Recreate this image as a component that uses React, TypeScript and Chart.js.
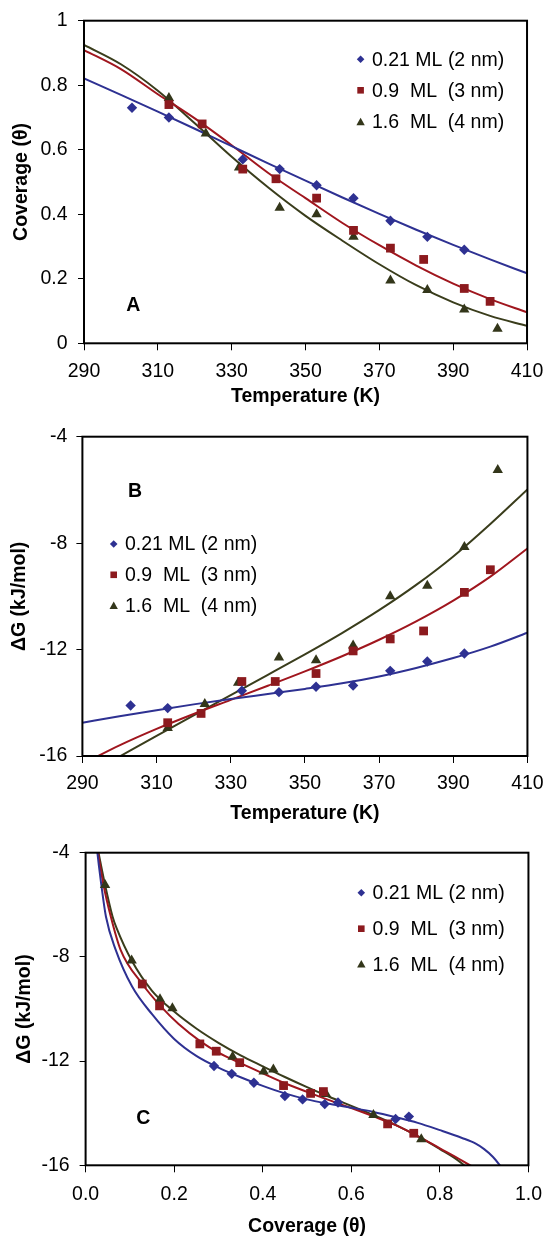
import React, { useEffect, useRef } from 'react';
import { Chart, registerables } from 'chart.js';

Chart.register(...registerables);

const FONT = "'Liberation Sans', Arial, Helvetica, sans-serif";
const FONT_SIZE = 19.5;

const SERIES_LABELS = ['0.21 ML (2 nm)', '0.9  ML  (3 nm)', '1.6  ML  (4 nm)'];
const MARKER_COLORS = ['#2E3192', '#8C1A1E', '#33361A'];
const LINE_COLORS = ['#2E3192', '#A0161E', '#3A3D1C'];
const MARKER_STYLES = ['rectRot', 'rect', 'triangle'];
const MARKER_RADII = [5.2, 6.2, 6.0];

// ---------- measured temperatures (K) ----------
const T_BLUE = [303, 313, 333, 343, 353, 363, 373, 383, 393];
const T_RED = [313, 322, 333, 342, 353, 363, 373, 382, 393, 400];
const T_GREEN = [313, 323, 332, 343, 353, 363, 373, 383, 393, 402];
const FIT_T = [290, 300, 310, 320, 330, 340, 350, 360, 370, 380, 390, 400, 410];

// ---------- Panel A: coverage vs temperature ----------
const A_COV_BLUE = [0.73, 0.70, 0.57, 0.54, 0.49, 0.45, 0.38, 0.33, 0.29];
const A_COV_RED = [0.74, 0.68, 0.54, 0.51, 0.45, 0.35, 0.295, 0.26, 0.17, 0.13];
const A_COV_GREEN = [0.76, 0.65, 0.545, 0.42, 0.40, 0.33, 0.195, 0.165, 0.105, 0.045];
const A_FIT_BLUE = [0.821, 0.77, 0.718, 0.665, 0.611, 0.557, 0.504, 0.452, 0.401, 0.352, 0.305, 0.26, 0.217];
const A_FIT_RED = [0.909, 0.85, 0.772, 0.697, 0.614, 0.527, 0.45, 0.373, 0.304, 0.241, 0.185, 0.137, 0.096];
const A_FIT_GREEN = [0.925, 0.865, 0.783, 0.682, 0.578, 0.482, 0.395, 0.318, 0.245, 0.18, 0.127, 0.085, 0.054];
const A_X_TICKS = [290, 310, 330, 350, 370, 390, 410];
const A_X_TICK_LABELS = ['290', '310', '330', '350', '370', '390', '410'];
const A_Y_TICKS = [0, 0.2, 0.4, 0.6, 0.8, 1];
const A_Y_TICK_LABELS = ['0', '0.2', '0.4', '0.6', '0.8', '1'];

// ---------- Panel B: ΔG vs temperature ----------
const B_DG_BLUE = [-14.1, -14.2, -13.55, -13.6, -13.4, -13.35, -12.8, -12.45, -12.15];
const B_DG_RED = [-14.75, -14.4, -13.2, -13.2, -12.9, -12.05, -11.6, -11.3, -9.85, -9.0];
const B_DG_GREEN = [-14.95, -14.05, -13.25, -12.3, -12.4, -11.85, -10.0, -9.6, -8.15, -5.25];
const B_FIT_BLUE = [-14.75, -14.51, -14.28, -14.06, -13.86, -13.67, -13.48, -13.27, -13.01, -12.69, -12.32, -11.89, -11.37];
const B_FIT_RED = [-16.3, -15.6, -14.98, -14.42, -13.89, -13.36, -12.82, -12.25, -11.63, -10.94, -10.16, -9.26, -8.2];
const B_FIT_GREEN = [-16.8, -16.02, -15.24, -14.47, -13.71, -12.95, -12.18, -11.38, -10.52, -9.57, -8.5, -7.28, -5.98];
const B_X_TICKS = [290, 310, 330, 350, 370, 390, 410];
const B_X_TICK_LABELS = ['290', '310', '330', '350', '370', '390', '410'];
const B_Y_TICKS = [-16, -12, -8, -4];
const B_Y_TICK_LABELS = ['-16', '-12', '-8', '-4'];

// ---------- Panel C: ΔG vs coverage ----------
const C_COV_BLUE = [0.29, 0.33, 0.38, 0.45, 0.49, 0.54, 0.57, 0.70, 0.73];
const C_DG_BLUE = [-12.19, -12.49, -12.83, -13.34, -13.47, -13.65, -13.59, -14.22, -14.13];
const C_COV_RED = [0.128, 0.167, 0.258, 0.295, 0.348, 0.447, 0.508, 0.537, 0.682, 0.741];
const C_DG_RED = [-9.04, -9.88, -11.34, -11.62, -12.06, -12.94, -13.24, -13.17, -14.41, -14.77];
const C_COV_GREEN = [0.044, 0.104, 0.168, 0.196, 0.332, 0.402, 0.424, 0.543, 0.65, 0.758];
const C_DG_GREEN = [-5.24, -8.14, -9.63, -9.97, -11.83, -12.4, -12.32, -13.26, -14.07, -15.0];
const C_FIT_BLUE_COV = [0.026, 0.03, 0.035, 0.046, 0.068, 0.105, 0.15, 0.2, 0.25, 0.3, 0.35, 0.4, 0.45, 0.5, 0.55, 0.6, 0.65, 0.7, 0.75, 0.8, 0.85, 0.88, 0.9, 0.92, 0.94];
const C_FIT_BLUE_DG = [-3.9, -4.5, -5.17, -6.46, -7.73, -9.14, -10.2, -11.15, -11.8, -12.25, -12.62, -12.95, -13.24, -13.47, -13.64, -13.79, -13.95, -14.15, -14.37, -14.65, -14.95, -15.16, -15.38, -15.68, -16.1];
const C_FIT_RED_COV = [0.027, 0.04, 0.057, 0.079, 0.128, 0.17, 0.21, 0.26, 0.3, 0.35, 0.4, 0.45, 0.5, 0.55, 0.6, 0.65, 0.7, 0.75, 0.8, 0.85, 0.878];
const C_FIT_RED_DG = [-3.9, -5.2, -6.46, -7.73, -9.04, -9.9, -10.58, -11.25, -11.67, -12.08, -12.47, -12.85, -13.18, -13.5, -13.8, -14.12, -14.46, -14.88, -15.35, -15.82, -16.1];
const C_FIT_GREEN_COV = [0.028, 0.044, 0.061, 0.07, 0.104, 0.15, 0.2, 0.25, 0.3, 0.35, 0.4, 0.45, 0.5, 0.55, 0.6, 0.65, 0.7, 0.76, 0.8, 0.84, 0.862];
const C_FIT_GREEN_DG = [-3.9, -5.24, -6.46, -6.9, -8.14, -9.3, -10.1, -10.75, -11.3, -11.78, -12.2, -12.61, -13.0, -13.37, -13.72, -14.07, -14.45, -14.98, -15.38, -15.8, -16.1];
const C_X_TICKS = [0, 0.2, 0.4, 0.6, 0.8, 1.0];
const C_X_TICK_LABELS = ['0.0', '0.2', '0.4', '0.6', '0.8', '1.0'];
const C_Y_TICKS = [-16, -12, -8, -4];
const C_Y_TICK_LABELS = ['-16', '-12', '-8', '-4'];

type Series = { x: number[]; y: number[] };
type Panel = {
  top: number;
  height: number;
  area: { left: number; right: number; top: number; bottom: number };
  xMin: number; xMax: number; xTicks: number[]; xTickLabels: string[]; xTitle: string;
  yMin: number; yMax: number; yTicks: number[]; yTickLabels: string[]; yTitle: string;
  xTitleY: number; yTitleX: number; xTickPad: number; yTickPad: number;
  letter: string; letterX: number; letterY: number;
  legendMarkerX: number; legendTextX: number; legendRows: number[];
  points: Series[]; fits: Series[];
};

const PANELS: Panel[] = [
  {
    top: 0, height: 412,
    area: { left: 84, right: 538.5, top: 20.7, bottom: 343.3 },
    xMin: 290, xMax: 410, xTicks: A_X_TICKS, xTickLabels: A_X_TICK_LABELS, xTitle: 'Temperature (K)',
    yMin: 0, yMax: 1, yTicks: A_Y_TICKS, yTickLabels: A_Y_TICK_LABELS, yTitle: 'Coverage (θ)',
    xTitleY: 397, yTitleX: 21.3, xTickPad: 11.7, yTickPad: 10.5,
    letter: 'A', letterX: 133.3, letterY: 305,
    legendMarkerX: 360.6, legendTextX: 372, legendRows: [59.3, 90.3, 122],
    points: [
      { x: T_BLUE, y: A_COV_BLUE },
      { x: T_RED, y: A_COV_RED },
      { x: T_GREEN, y: A_COV_GREEN },
    ],
    fits: [
      { x: FIT_T, y: A_FIT_BLUE },
      { x: FIT_T, y: A_FIT_RED },
      { x: FIT_T, y: A_FIT_GREEN },
    ],
  },
  {
    top: 412, height: 420,
    area: { left: 82.4, right: 539, top: 436.7, bottom: 756 },
    xMin: 290, xMax: 410, xTicks: B_X_TICKS, xTickLabels: B_X_TICK_LABELS, xTitle: 'Temperature (K)',
    yMin: -16, yMax: -4, yTicks: B_Y_TICKS, yTickLabels: B_Y_TICK_LABELS, yTitle: 'ΔG (kJ/mol)',
    xTitleY: 813.5, yTitleX: 19.5, xTickPad: 11.3, yTickPad: 9,
    letter: 'B', letterX: 135, letterY: 491,
    legendMarkerX: 113.7, legendTextX: 125, legendRows: [544, 574.8, 605.7],
    points: [
      { x: T_BLUE, y: B_DG_BLUE },
      { x: T_RED, y: B_DG_RED },
      { x: T_GREEN, y: B_DG_GREEN },
    ],
    fits: [
      { x: FIT_T, y: B_FIT_BLUE },
      { x: FIT_T, y: B_FIT_RED },
      { x: FIT_T, y: B_FIT_GREEN },
    ],
  },
  {
    top: 832, height: 405,
    area: { left: 85.6, right: 541.4, top: 852.7, bottom: 1165.3 },
    xMin: 0, xMax: 1, xTicks: C_X_TICKS, xTickLabels: C_X_TICK_LABELS, xTitle: 'Coverage (θ)',
    yMin: -16, yMax: -4, yTicks: C_Y_TICKS, yTickLabels: C_Y_TICK_LABELS, yTitle: 'ΔG (kJ/mol)',
    xTitleY: 1227, yTitleX: 24.9, xTickPad: 13, yTickPad: 10,
    letter: 'C', letterX: 143.2, letterY: 1117.7,
    legendMarkerX: 361.3, legendTextX: 372.6, legendRows: [892.7, 928.7, 964.3],
    points: [
      { x: C_COV_BLUE, y: C_DG_BLUE },
      { x: C_COV_RED, y: C_DG_RED },
      { x: C_COV_GREEN, y: C_DG_GREEN },
    ],
    fits: [
      { x: C_FIT_BLUE_COV, y: C_FIT_BLUE_DG },
      { x: C_FIT_RED_COV, y: C_FIT_RED_DG },
      { x: C_FIT_GREEN_COV, y: C_FIT_GREEN_DG },
    ],
  },
];

function drawMarker(ctx: CanvasRenderingContext2D, style: string, x: number, y: number, size: number, color: string) {
  ctx.save();
  ctx.fillStyle = color;
  ctx.beginPath();
  if (style === 'rectRot') {
    ctx.moveTo(x, y - size);
    ctx.lineTo(x + size, y);
    ctx.lineTo(x, y + size);
    ctx.lineTo(x - size, y);
  } else if (style === 'rect') {
    ctx.rect(x - size, y - size, size * 2, size * 2);
  } else {
    const h = size * 1.8;
    ctx.moveTo(x, y - h / 2 - 0.5);
    ctx.lineTo(x + size, y + h / 2 - 0.5);
    ctx.lineTo(x - size, y + h / 2 - 0.5);
  }
  ctx.closePath();
  ctx.fill();
  ctx.restore();
}

function buildChart(canvas: HTMLCanvasElement, p: Panel) {
  const areaTop = p.area.top - p.top;
  const areaBottom = p.area.bottom - p.top;
  const datasets: any[] = [];
  p.points.forEach((s, i) => {
    datasets.push({
      type: 'scatter',
      label: SERIES_LABELS[i],
      data: s.x.map((x, j) => ({ x, y: s.y[j] })),
      pointStyle: MARKER_STYLES[i],
      pointRadius: MARKER_RADII[i],
      pointHoverRadius: MARKER_RADII[i],
      backgroundColor: MARKER_COLORS[i],
      borderColor: MARKER_COLORS[i],
      borderWidth: 0,
      showLine: false,
      clip: false,
      order: 0,
    });
  });
  p.fits.forEach((s, i) => {
    datasets.push({
      type: 'line',
      label: SERIES_LABELS[i] + ' fit',
      data: s.x.map((x, j) => ({ x, y: s.y[j] })),
      borderColor: LINE_COLORS[i],
      borderWidth: 2,
      pointRadius: 0,
      fill: false,
      cubicInterpolationMode: 'monotone',
      order: 1,
    });
  });

  const framePlugin = {
    id: 'frameAndLegend',
    afterDraw(chart: any) {
      const ctx: CanvasRenderingContext2D = chart.ctx;
      const a = chart.chartArea;
      ctx.save();
      ctx.strokeStyle = '#000';
      ctx.lineWidth = 2;
      ctx.strokeRect(a.left, a.top, a.right - a.left, a.bottom - a.top);
      // legend
      ctx.font = `${FONT_SIZE}px ${FONT}`;
      ctx.fillStyle = '#000';
      ctx.textAlign = 'left';
      ctx.textBaseline = 'middle';
      p.legendRows.forEach((ry, i) => {
        const y = ry - p.top;
        const sz = i === 0 ? 3.8 : i === 1 ? 3.3 : 4.2;
        drawMarker(ctx, MARKER_STYLES[i], p.legendMarkerX, y, sz, MARKER_COLORS[i]);
        ctx.fillStyle = '#000';
        ctx.fillText(SERIES_LABELS[i], p.legendTextX, y + 1);
      });
      // panel letter
      ctx.font = `bold ${FONT_SIZE}px ${FONT}`;
      ctx.textAlign = 'center';
      ctx.fillText(p.letter, p.letterX, p.letterY - p.top + 1);
      ctx.restore();
    },
  };

  const labelFor = (ticks: number[], labels: string[]) => (v: any, idx: number) => {
    const k = ticks.findIndex((t) => Math.abs(t - v) < 1e-9);
    return k >= 0 ? labels[k] : labels[idx];
  };

  return new Chart(canvas, {
    type: 'scatter',
    data: { datasets },
    options: {
      animation: false,
      responsive: false,
      devicePixelRatio: 1,
      events: [],
      layout: { padding: { top: areaTop, right: 555 - p.area.right, left: 0, bottom: 0 } },
      plugins: { legend: { display: false }, tooltip: { enabled: false } },
      scales: {
        x: {
          type: 'linear',
          min: p.xMin,
          max: p.xMax,
          afterBuildTicks: (s: any) => { s.ticks = p.xTicks.map((v) => ({ value: v })); },
          afterFit: (s: any) => { s.height = p.height - areaBottom; },
          ticks: {
            callback: labelFor(p.xTicks, p.xTickLabels),
            font: { family: FONT, size: FONT_SIZE, lineHeight: 1 },
            color: '#000',
            padding: p.xTickPad,
            maxRotation: 0,
            autoSkip: false,
          },
          grid: { drawOnChartArea: false, drawTicks: true, tickLength: 7, tickColor: '#000', tickWidth: 1 },
          border: { display: false },
          title: {
            display: true,
            text: p.xTitle,
            color: '#000',
            font: { family: FONT, size: FONT_SIZE, weight: 'bold', lineHeight: 1 },
            padding: { top: 0, bottom: p.height - (p.xTitleY - p.top) - FONT_SIZE / 2 },
          },
        },
        y: {
          type: 'linear',
          min: p.yMin,
          max: p.yMax,
          afterBuildTicks: (s: any) => { s.ticks = p.yTicks.map((v) => ({ value: v })); },
          afterFit: (s: any) => { s.width = p.area.left; },
          ticks: {
            callback: labelFor(p.yTicks, p.yTickLabels),
            font: { family: FONT, size: FONT_SIZE, lineHeight: 1 },
            color: '#000',
            padding: p.yTickPad,
            autoSkip: false,
          },
          grid: { drawOnChartArea: false, drawTicks: true, tickLength: 6, tickColor: '#000', tickWidth: 1 },
          border: { display: false },
          title: {
            display: true,
            text: p.yTitle,
            color: '#000',
            font: { family: FONT, size: FONT_SIZE, weight: 'bold', lineHeight: 1 },
            padding: { top: p.yTitleX - FONT_SIZE / 2, bottom: 0 },
          },
        },
      },
    } as any,
    plugins: [framePlugin],
  });
}

function PanelChart({ panel }: { panel: Panel }) {
  const ref = useRef<HTMLCanvasElement>(null);
  useEffect(() => {
    if (!ref.current) return;
    const chart = buildChart(ref.current, panel);
    return () => chart.destroy();
  }, [panel]);
  return (
    <canvas
      ref={ref}
      width={555}
      height={panel.height}
      style={{ position: 'absolute', left: 0, top: panel.top, width: 555, height: panel.height, display: 'block' }}
    />
  );
}

export default function App() {
  return (
    <div style={{ position: 'absolute', left: 0, top: 0, width: 555, height: 1237, overflow: 'hidden', background: '#fff' }}>
      {PANELS.map((p, i) => (
        <PanelChart key={i} panel={p} />
      ))}
    </div>
  );
}
